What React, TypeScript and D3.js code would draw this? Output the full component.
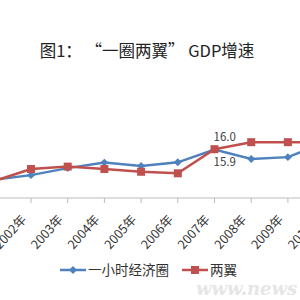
import { useEffect, useRef } from "react";
import * as d3 from "d3";

// years shown on the category axis (2001 and 2010 are cut off at the edges)
const years = ["2001", "2002", "2003", "2004", "2005", "2006", "2007", "2008", "2009", "2010"];
// 一小时经济圈
const circleGdp = [6.0, 7.5, 9.8, 11.6, 10.5, 11.7, 15.9, 12.8, 13.4, 18.2];
// 两翼
const wingsGdp = [5.6, 9.5, 10.3, 9.5, 8.6, 8.1, 16.0, 18.3, 18.3, 18.3];
const seriesNames = ["一小时经济圈", "两翼"];
const colors = ["#4F81BD", "#C0504D"];

const W = 300;
const H = 300;

export default function App() {
  const ref = useRef<SVGSVGElement>(null);

  useEffect(() => {
    const svg = d3.select(ref.current);
    svg.selectAll("*").remove();
    const font = "'Noto Sans CJK SC', 'Noto Sans', sans-serif";

    svg.append("rect").attr("width", W).attr("height", H).attr("fill", "#fff");

    svg.append("text")
      .attr("x", 147)
      .attr("y", 57)
      .attr("text-anchor", "middle")
      .attr("font-family", font)
      .attr("font-size", 16.5)
      .attr("fill", "#222")
      .text("图1： “一圈两翼” GDP增速");

    const x = d3.scalePoint<string>().domain(years).range([-5.7, 324.6]);
    const y = d3.scaleLinear().domain([0, 20]).range([198, 137]);

    // category axis
    const axisY = 198;
    const g = svg.append("g");
    g.append("line")
      .attr("x1", 0).attr("x2", W)
      .attr("y1", axisY).attr("y2", axisY)
      .attr("stroke", "#bcbcbc");
    g.selectAll("line.tick")
      .data(years)
      .enter()
      .append("line")
      .attr("class", "tick")
      .attr("x1", d => x(d)!).attr("x2", d => x(d)!)
      .attr("y1", axisY).attr("y2", axisY + 5)
      .attr("stroke", "#bcbcbc");
    g.selectAll("text.lbl")
      .data(years)
      .enter()
      .append("text")
      .attr("class", "lbl")
      .attr("text-anchor", "end")
      .attr("font-family", font)
      .attr("font-size", 12.5)
      .attr("fill", "#333")
      .attr("transform", d => `translate(${x(d)! - 4},${axisY + 22}) rotate(-48)`)
      .text(d => d + "年");

    const line = d3.line<number>()
      .x((_, i) => x(years[i])!)
      .y(d => y(d));

    const all = [circleGdp, wingsGdp];
    all.forEach((vals, s) => {
      svg.append("path")
        .attr("d", line(vals))
        .attr("fill", "none")
        .attr("stroke", colors[s])
        .attr("stroke-width", 2.5);
    });

    // markers: blue diamonds, red squares
    svg.selectAll("path.dia")
      .data(circleGdp)
      .enter()
      .append("path")
      .attr("class", "dia")
      .attr("d", d3.symbol(d3.symbolDiamond2, 40)())
      .attr("transform", (d, i) => `translate(${x(years[i])},${y(d)})`)
      .attr("fill", colors[0]);
    svg.selectAll("rect.sq")
      .data(wingsGdp)
      .enter()
      .append("rect")
      .attr("class", "sq")
      .attr("x", (_, i) => x(years[i])! - 4)
      .attr("y", d => y(d) - 4)
      .attr("width", 8)
      .attr("height", 8)
      .attr("fill", colors[1]);

    // data labels at 2007
    const i7 = years.indexOf("2007");
    svg.append("text")
      .attr("x", x("2007")! - 1)
      .attr("y", y(wingsGdp[i7]) - 8)
      .attr("font-family", font)
      .attr("font-size", 11.5)
      .attr("fill", "#404040")
      .text(wingsGdp[i7].toFixed(1));
    svg.append("text")
      .attr("x", x("2007")! - 1)
      .attr("y", y(circleGdp[i7]) + 16)
      .attr("font-family", font)
      .attr("font-size", 11.5)
      .attr("fill", "#404040")
      .text(circleGdp[i7].toFixed(1));

    // legend
    const ly = 270;
    const items = [{ x0: 60, tx: 88 }, { x0: 182, tx: 210 }];
    items.forEach((it, s) => {
      svg.append("line")
        .attr("x1", it.x0).attr("x2", it.x0 + 26)
        .attr("y1", ly).attr("y2", ly)
        .attr("stroke", colors[s])
        .attr("stroke-width", 2.5);
      if (s === 0) {
        svg.append("path")
          .attr("d", d3.symbol(d3.symbolDiamond2, 40)())
          .attr("transform", `translate(${it.x0 + 13},${ly})`)
          .attr("fill", colors[s]);
      } else {
        svg.append("rect")
          .attr("x", it.x0 + 9).attr("y", ly - 4)
          .attr("width", 8).attr("height", 8)
          .attr("fill", colors[s]);
      }
      svg.append("text")
        .attr("x", it.tx)
        .attr("y", ly + 5)
        .attr("font-family", font)
        .attr("font-size", 13.5)
        .attr("fill", "#333")
        .text(seriesNames[s]);
    });

    // faint watermark
    svg.append("text")
      .attr("x", 196)
      .attr("y", 295)
      .attr("font-family", "'DejaVu Serif', serif")
      .attr("font-style", "italic")
      .attr("font-weight", "bold")
      .attr("font-size", 18)
      .attr("fill", "#e6e6e6")
      .text("www.news");
  }, []);

  return (
    <div style={{ position: "absolute", left: 0, top: 0 }}>
      <svg ref={ref} width={W} height={H} />
    </div>
  );
}
